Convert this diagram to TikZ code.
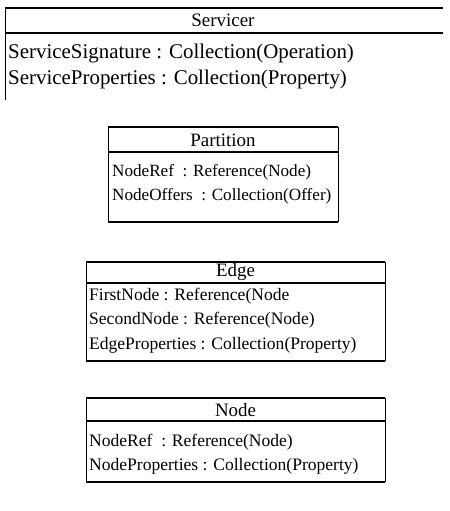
\documentclass[tikz,border=0pt]{standalone}
\usepackage{fontspec}
\setmainfont{Liberation Serif}
\begin{document}
\begin{tikzpicture}[x=1bp,y=-1bp,
  hline/.style={line width=2.2bp},
  vline/.style={line width=1bp},
  lbl/.style={font=\fontsize{17.6}{21}\selectfont, inner sep=0pt, anchor=west},
  slbl/.style={font=\fontsize{21}{25}\selectfont, inner sep=0pt, anchor=west},
  plbl/.style={font=\fontsize{17.2}{21}\selectfont, inner sep=0pt, anchor=west},
  hdr/.style={font=\fontsize{19}{22}\selectfont, inner sep=0pt}]
\useasboundingbox (0,0) rectangle (450,511);
% Servicer
\draw[hline] (5,8) -- (443,8);
\draw[hline] (5,33) -- (443,33);
\draw[vline] (5,8) -- (5,100);
\node[hdr] (sh) at (223,20) {Servicer};
\node[slbl] (s1) at (8,54) {ServiceSignature : Collection(Operation)};
\node[slbl] (s2) at (8,80) {ServiceProperties : Collection(Property)};
% Partition
\draw[vline] (108,127) -- (108,222);
\draw[vline] (338,127) -- (338,222);
\draw[hline] (108,127) -- (338,127);
\draw[hline] (108,152) -- (338,152);
\draw[hline] (108,222) -- (338,222);
\node[hdr] (ph) at (223,140) {Partition};
\node[plbl] (p1) at (112,172) {NodeRef\ \ : Reference(Node)};
\node[plbl] (p2) at (112,196) {NodeOffers\ \ : Collection(Offer)};
% Edge
\draw[vline] (86,262) -- (86,361);
\draw[vline] (385,262) -- (385,361);
\draw[hline] (86,262) -- (385,262);
\draw[hline] (86,283) -- (385,283);
\draw[hline] (86,361) -- (385,361);
\node[hdr] (eh) at (235.5,272) {Edge};
\node[lbl] (e1) at (89,296) {FirstNode : Reference(Node};
\node[lbl] (e2) at (89,320) {SecondNode : Reference(Node)};
\node[lbl] (e3) at (89,345) {EdgeProperties : Collection(Property)};
% Node
\draw[vline] (86,398) -- (86,482);
\draw[vline] (385,398) -- (385,482);
\draw[hline] (86,398) -- (385,398);
\draw[hline] (86,421) -- (385,421);
\draw[hline] (86,482) -- (385,482);
\node[hdr] (nh) at (235.5,410) {Node};
\node[lbl] (n1) at (89,442) {NodeRef\ \ : Reference(Node)};
\node[lbl] (n2) at (89,466) {NodeProperties : Collection(Property)};
\end{tikzpicture}
\end{document}
